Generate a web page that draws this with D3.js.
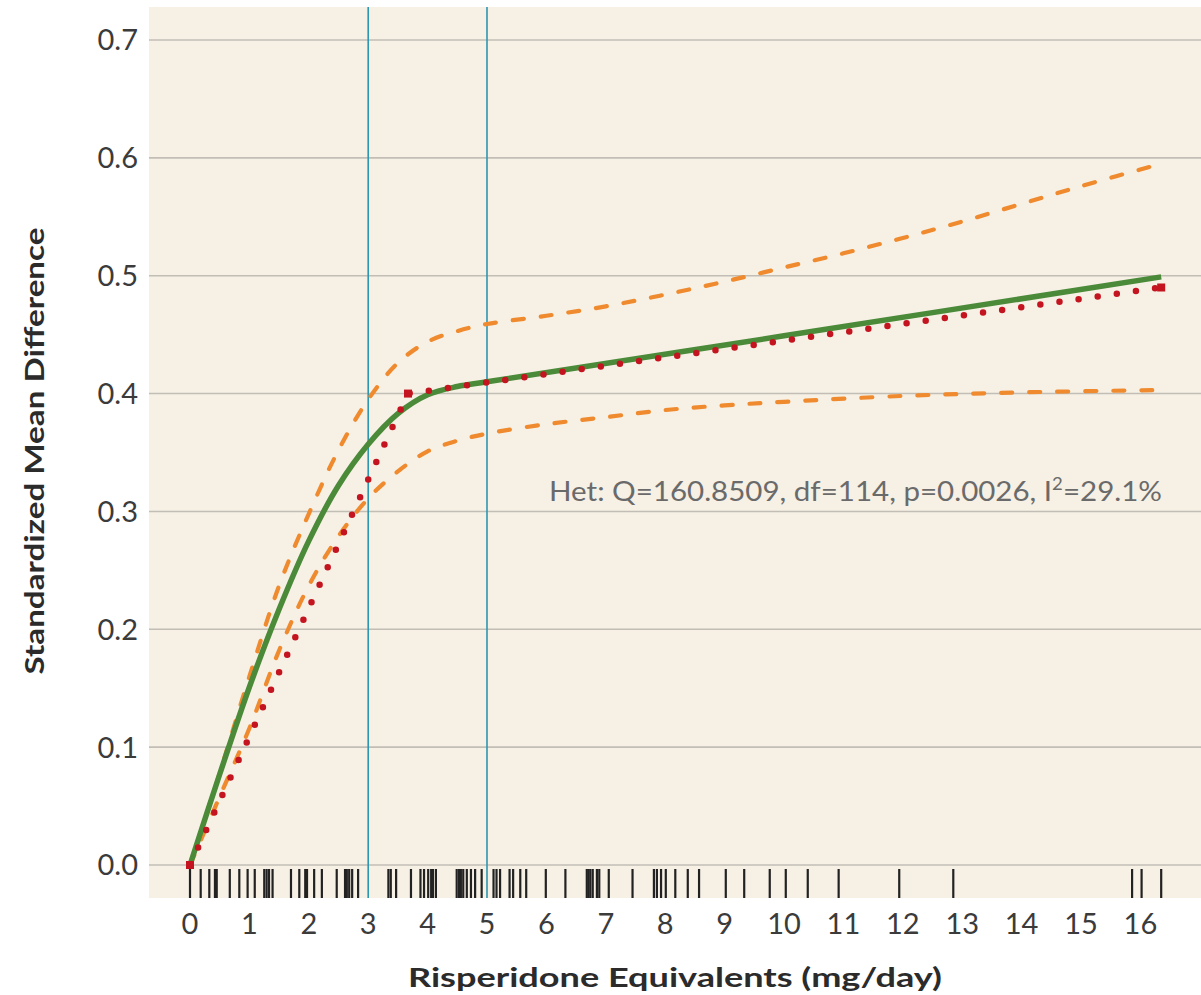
<!DOCTYPE html>
<html>
<head>
<meta charset="utf-8">
<script src="https://d3js.org/d3.v7.min.js"></script>
<title>Dose-response: Risperidone Equivalents</title>
<style>
  body { margin: 0; background: #fff; }
  svg { display: block; }
  .tick-label { font-family: Lato, "Open Sans", sans-serif; font-size: 29px; fill: #3b3b3b; }
  .axis-title { font-family: Lato, "Open Sans", sans-serif; font-weight: bold; font-size: 27px; fill: #2b2b2b; }
  .het { font-family: Lato, "Open Sans", sans-serif; font-size: 27px; fill: #6a6a6a; }
</style>
</head>
<body>
<div id="chart"></div>
<script>
// ---- data ----
var xTicks = [0, 1, 2, 3, 4, 5, 6, 7, 8, 9, 10, 11, 12, 13, 14, 15, 16];
var yTicks = [0, 0.1, 0.2, 0.3, 0.4, 0.5, 0.6, 0.7];
var yTickLabels = ["0.0", "0.1", "0.2", "0.3", "0.4", "0.5", "0.6", "0.7"];
var refLines = [3, 5];

// restricted cubic spline fit (green)
var splineX = [0, 0.5, 1, 1.5, 2, 2.5, 3, 3.5, 4, 4.5, 5, 10, 16.35];
var splineY = [0, 0.077, 0.151, 0.217, 0.275, 0.322, 0.357, 0.383, 0.399, 0.406, 0.410, 0.449, 0.499];
// confidence band (orange dashed)
var upperX = [0, 0.5, 1, 1.5, 2, 2.5, 3, 3.5, 4, 4.5, 5, 6, 7, 8, 9, 10, 11, 12, 13, 14, 15, 16.35];
var upperY = [0, 0.078, 0.16, 0.237, 0.298, 0.352, 0.395, 0.426, 0.444, 0.453, 0.459, 0.466, 0.474, 0.484, 0.495, 0.507, 0.519, 0.532, 0.546, 0.561, 0.576, 0.595];
var lowerX = [0, 0.5, 1, 1.5, 2, 2.5, 3, 3.5, 4, 4.5, 5, 6, 7, 8, 9, 10, 12, 14, 16.35];
var lowerY = [0, 0.058, 0.116, 0.182, 0.237, 0.279, 0.311, 0.334, 0.351, 0.36, 0.366, 0.374, 0.38, 0.386, 0.39, 0.393, 0.398, 0.401, 0.403];
// piecewise linear fit (red dotted)
var linearX = [0, 3.67, 16.35];
var linearY = [0, 0.40, 0.49];
// doses of the included studies (rug)
var rugDoses = [0, 0.18, 0.325, 0.42, 0.45, 0.67, 0.83, 0.97, 1.09, 1.25, 1.29, 1.33, 1.39,
  1.70, 1.84, 1.94, 1.97, 2.09, 2.22, 2.47, 2.61, 2.64, 2.68, 2.73, 2.83,
  3.34, 3.38, 3.47, 3.72, 3.88, 3.94, 4.01, 4.06, 4.09, 4.14,
  4.49, 4.53, 4.56, 4.60, 4.66, 4.73, 4.80, 4.91, 5.11, 5.16, 5.22, 5.38, 5.44, 5.56, 5.66,
  5.99, 6.32, 6.68, 6.71, 6.74, 6.78, 6.85, 6.89, 7.05, 7.45, 7.81, 7.86, 7.93, 8.01,
  8.17, 8.38, 8.57, 9.02, 9.33, 9.76, 10.03, 10.40, 10.92, 11.94, 12.85, 15.86, 16.02, 16.35];

var width = 1201, height = 995;
var plotLeft = 149, plotTop = 7, plotBottom = 898;

var svg = d3.select('#chart').append('svg').attr('width', width).attr('height', height);

var x = d3.scaleLinear().domain([0, 16]).range([190, 1140.4]);
var y = d3.scaleLinear().domain([0, 0.7]).range([865, 40]);

// background panel
svg.append('rect')
  .attr('x', plotLeft).attr('y', plotTop)
  .attr('width', width - plotLeft).attr('height', plotBottom - plotTop)
  .attr('fill', '#f6f0e5');

// horizontal gridlines
svg.append('g').selectAll('line')
  .data(yTicks).enter().append('line')
  .attr('x1', plotLeft).attr('x2', width)
  .attr('y1', function(d) { return y(d); }).attr('y2', function(d) { return y(d); })
  .attr('stroke', '#c2beb6').attr('stroke-width', 1.6);

// y tick labels
svg.append('g').selectAll('text')
  .data(yTicks).enter().append('text')
  .attr('class', 'tick-label')
  .attr('x', 138)
  .attr('y', function(d) { return y(d); })
  .attr('dy', '0.36em')
  .attr('text-anchor', 'end')
  .text(function(d, i) { return yTickLabels[i]; });

// x tick labels
svg.append('g').selectAll('text')
  .data(xTicks).enter().append('text')
  .attr('class', 'tick-label')
  .attr('x', function(d) { return x(d); })
  .attr('y', 934)
  .attr('text-anchor', 'middle')
  .text(function(d) { return d; });

// rug of study doses
svg.append('g').selectAll('line')
  .data(rugDoses).enter().append('line')
  .attr('x1', function(d) { return x(d); }).attr('x2', function(d) { return x(d); })
  .attr('y1', function(d, i) { return i === 0 ? 866 : 869; }).attr('y2', plotBottom)
  .attr('stroke', '#222').attr('stroke-width', 2.2);

// reference lines at 3 and 5 mg/day
svg.append('g').selectAll('line')
  .data(refLines).enter().append('line')
  .attr('x1', function(d) { return x(d); }).attr('x2', function(d) { return x(d); })
  .attr('y1', plotTop).attr('y2', plotBottom)
  .attr('stroke', '#2b97b1').attr('stroke-width', 1.6);

function pts(xs, ys) { return xs.map(function(v, i) { return [v, ys[i]]; }); }
var smooth = d3.line().x(function(d) { return x(d[0]); }).y(function(d) { return y(d[1]); }).curve(d3.curveCatmullRom.alpha(0.5));
var straight = d3.line().x(function(d) { return x(d[0]); }).y(function(d) { return y(d[1]); });

// confidence limits
[pts(upperX, upperY), pts(lowerX, lowerY)].forEach(function(p) {
  svg.append('path')
    .attr('d', smooth(p))
    .attr('fill', 'none')
    .attr('stroke', '#ef8a2e')
    .attr('stroke-width', 4.2)
    .attr('stroke-linecap', 'round')
    .attr('stroke-dasharray', '11 17');
});

// spline
svg.append('path')
  .attr('d', smooth(pts(splineX, splineY)))
  .attr('fill', 'none')
  .attr('stroke', '#4a8a38')
  .attr('stroke-width', 5.5);

// linear fit, dotted
svg.append('path')
  .attr('d', straight(pts(linearX, linearY)))
  .attr('fill', 'none')
  .attr('stroke', '#c4141f')
  .attr('stroke-width', 6.5)
  .attr('stroke-linecap', 'round')
  .attr('stroke-dasharray', '0 19.3');

svg.append('g').selectAll('rect')
  .data(pts(linearX, linearY)).enter().append('rect')
  .attr('x', function(d) { return x(d[0]) - 4; })
  .attr('y', function(d) { return y(d[1]) - 4; })
  .attr('width', 8).attr('height', 8)
  .attr('fill', '#c4141f');

// heterogeneity annotation
var het = svg.append('text')
  .attr('class', 'het')
  .attr('x', 549).attr('y', 501)
  .attr('textLength', 613)
  .attr('lengthAdjust', 'spacingAndGlyphs');
het.append('tspan').text('Het: Q=160.8509, df=114, p=0.0026, I');
het.append('tspan').attr('dy', -11).attr('font-size', '17px').text('2');
het.append('tspan').attr('dy', 11).text('=29.1%');

// axis titles
svg.append('text')
  .attr('class', 'axis-title')
  .attr('x', 675).attr('y', 987)
  .attr('text-anchor', 'middle')
  .attr('textLength', 534)
  .attr('lengthAdjust', 'spacingAndGlyphs')
  .text('Risperidone Equivalents (mg/day)');

svg.append('text')
  .attr('class', 'axis-title')
  .attr('transform', 'translate(44,451) rotate(-90)')
  .attr('text-anchor', 'middle')
  .attr('textLength', 447)
  .attr('lengthAdjust', 'spacingAndGlyphs')
  .text('Standardized Mean Difference');
</script>
</body>
</html>
